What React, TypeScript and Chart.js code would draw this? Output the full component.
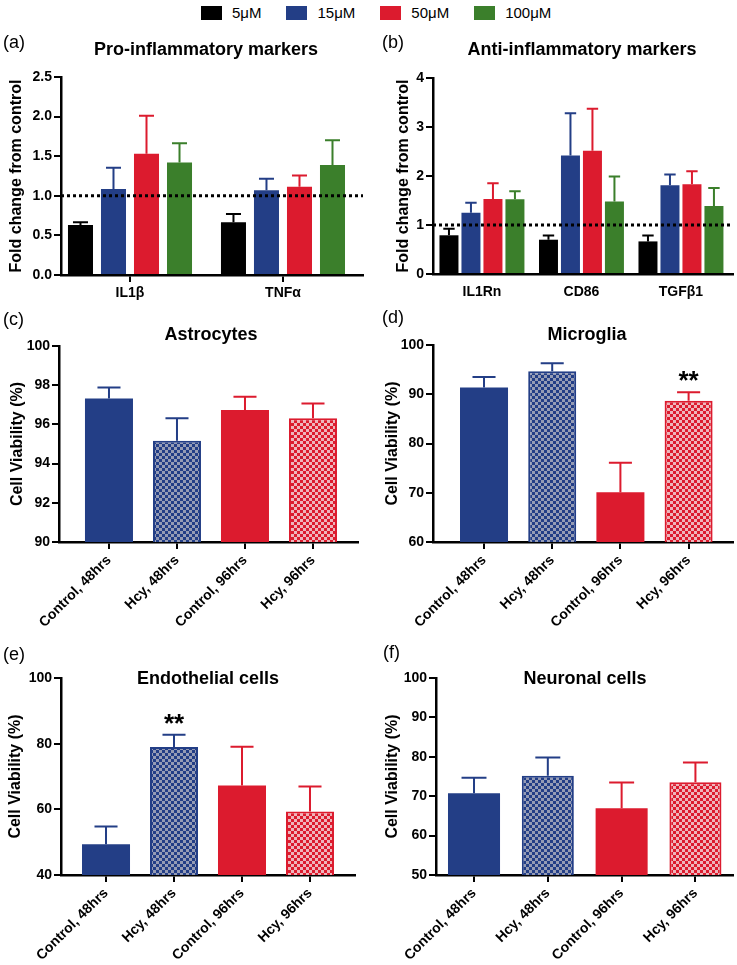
import React, { useEffect, useRef } from 'react';
import { Chart, registerables } from 'chart.js';

Chart.register(...registerables);

const FONT = "'Liberation Sans', Arial, Helvetica, sans-serif";
Chart.defaults.font.family = FONT;
Chart.defaults.color = '#000';

// ---------------- data ----------------
const concentrations = ['5μM', '15μM', '50μM', '100μM'];

const proCategories = ['IL1β', 'TNFα'];
const pro5 = [0.63, 0.665];
const pro5Err = [0.035, 0.105];
const pro15 = [1.085, 1.07];
const pro15Err = [0.27, 0.145];
const pro50 = [1.53, 1.115];
const pro50Err = [0.48, 0.14];
const pro100 = [1.42, 1.39];
const pro100Err = [0.245, 0.31];
const proTicks = [0, 0.5, 1, 1.5, 2, 2.5];

const antiCategories = ['IL1Rn', 'CD86', 'TGFβ1'];
const anti5 = [0.79, 0.7, 0.665];
const anti5Err = [0.135, 0.085, 0.12];
const anti15 = [1.25, 2.42, 1.81];
const anti15Err = [0.205, 0.86, 0.22];
const anti50 = [1.53, 2.515, 1.83];
const anti50Err = [0.32, 0.86, 0.265];
const anti100 = [1.525, 1.48, 1.39];
const anti100Err = [0.165, 0.51, 0.365];
const antiTicks = [0, 1, 2, 3, 4];

const viabilityGroups = ['Control, 48hrs', 'Hcy, 48hrs', 'Control, 96hrs', 'Hcy, 96hrs'];
const astrocytes = [97.32, 95.17, 96.73, 96.31];
const astrocytesErr = [0.56, 1.15, 0.68, 0.76];
const astrocytesTicks = [90, 92, 94, 96, 98, 100];
const microglia = [91.35, 94.66, 70.1, 88.7];
const microgliaErr = [2.15, 1.62, 6.0, 1.7];
const microgliaSig = ['', '', '', '**'];
const microgliaTicks = [60, 70, 80, 90, 100];
const endothelial = [49.36, 78.96, 67.26, 59.33];
const endothelialErr = [5.39, 3.74, 11.8, 7.63];
const endothelialSig = ['', '**', '', ''];
const endothelialTicks = [40, 60, 80, 100];
const neuronal = [70.76, 75.17, 66.95, 73.56];
const neuronalErr = [3.9, 4.66, 6.52, 5.0];
const neuronalTicks = [50, 60, 70, 80, 90, 100];

// ---------------- styles ----------------
const BLACK = '#000000';
const BLUE = '#233e86';
const RED = '#dc1b2e';
const GREEN = '#3b7f2b';
const BLUE_LIGHT = '#959cb5';
const RED_LIGHT = '#eeb5bb';
const concColors = [BLACK, BLUE, RED, GREEN];

function makeChecker(dark: string, light: string): any {
  const c = document.createElement('canvas');
  const s = 3;
  c.width = s * 2;
  c.height = s * 2;
  const g = c.getContext('2d')!;
  g.fillStyle = light;
  g.fillRect(0, 0, s * 2, s * 2);
  g.fillStyle = dark;
  g.fillRect(0, 0, s, s);
  g.fillRect(s, s, s, s);
  const ctx = document.createElement('canvas').getContext('2d')!;
  return ctx.createPattern(c, 'repeat');
}

const decorPlugin = {
  id: 'decor',
  afterDatasetsDraw(chart: any, _args: any, opts: any) {
    const ctx = chart.ctx;
    const ys = chart.scales.y;
    const { left, right } = chart.chartArea;
    ctx.save();
    if (opts.refLine != null) {
      const py = ys.getPixelForValue(opts.refLine);
      ctx.beginPath();
      ctx.setLineDash([3, 3]);
      ctx.lineWidth = 3;
      ctx.strokeStyle = '#000';
      ctx.moveTo(left, py);
      ctx.lineTo(right, py);
      ctx.stroke();
      ctx.setLineDash([]);
    }
    chart.data.datasets.forEach((ds: any, di: number) => {
      const meta = chart.getDatasetMeta(di);
      meta.data.forEach((el: any, i: number) => {
        const v = ds.data[i].y;
        const e = ds.errors[i];
        const col = Array.isArray(ds.errColor) ? ds.errColor[i] : ds.errColor;
        const pTop = ys.getPixelForValue(v + e);
        const cw = el.width * opts.capRatio;
        ctx.beginPath();
        ctx.strokeStyle = col;
        ctx.lineWidth = 2;
        ctx.moveTo(el.x, el.y);
        ctx.lineTo(el.x, pTop);
        ctx.moveTo(el.x - cw / 2, pTop);
        ctx.lineTo(el.x + cw / 2, pTop);
        ctx.stroke();
        if (ds.stars && ds.stars[i]) {
          ctx.fillStyle = '#000';
          ctx.font = `bold 26px ${FONT}`;
          ctx.textAlign = 'center';
          ctx.textBaseline = 'alphabetic';
          ctx.fillText(ds.stars[i], el.x, pTop - 3);
        }
      });
    });
    ctx.fillStyle = '#000';
    ctx.font = `bold 18px ${FONT}`;
    ctx.textAlign = 'center';
    ctx.textBaseline = 'alphabetic';
    ctx.fillText(opts.title, opts.titleX, opts.titleY);
    ctx.font = `18px ${FONT}`;
    ctx.textAlign = 'left';
    ctx.textBaseline = 'middle';
    ctx.fillText(opts.tag, opts.tagX, opts.tagY);
    ctx.restore();
  },
};

type Series = {
  label: string;
  values: number[];
  errors: number[];
  bg: any;
  border: any;
  borderWidth: any;
  errColor: any;
  stars?: string[];
};

type Spec = {
  rect: number[];
  area: number[];
  labels: string[];
  xMin: number;
  xMax: number;
  rot: number;
  xTicks: boolean;
  catPct: number;
  barPct: number;
  yTicks: number[];
  yFmt: (v: number) => string;
  yTitle: string;
  yTitlePad: number;
  title: string;
  titlePos: number[];
  tag: string;
  tagPos: number[];
  refLine?: number;
  capRatio: number;
  series: () => Series[];
};

function buildConfig(spec: Spec): any {
  const [x0, y0, w, h] = spec.rect;
  const [L, T, R, B] = spec.area;
  const datasets = spec.series().map((s) => ({
    label: s.label,
    data: s.values.map((v, i) => ({ x: i, y: v })),
    backgroundColor: s.bg,
    borderColor: s.border,
    borderWidth: s.borderWidth,
    borderSkipped: false,
    errors: s.errors,
    errColor: s.errColor,
    stars: s.stars,
    categoryPercentage: spec.catPct,
    barPercentage: spec.barPct,
  }));
  return {
    type: 'bar',
    data: { datasets },
    plugins: [decorPlugin],
    options: {
      animation: false,
      responsive: false,
      devicePixelRatio: 1,
      layout: { padding: { top: T - y0, right: x0 + w - R, left: 0, bottom: 0 } },
      plugins: {
        legend: { display: false },
        tooltip: { enabled: false },
        title: { display: false },
        decor: {
          refLine: spec.refLine,
          capRatio: spec.capRatio,
          title: spec.title,
          titleX: spec.titlePos[0] - x0,
          titleY: spec.titlePos[1] - y0,
          tag: spec.tag,
          tagX: spec.tagPos[0] - x0,
          tagY: spec.tagPos[1] - y0,
        },
      },
      scales: {
        x: {
          type: 'linear',
          min: spec.xMin,
          max: spec.xMax,
          offset: false,
          afterBuildTicks: (s: any) => {
            s.ticks = spec.labels.map((_, i) => ({ value: i }));
          },
          afterFit: (s: any) => {
            s.height = y0 + h - B;
          },
          ticks: {
            autoSkip: false,
            callback: (v: number) => spec.labels[v] ?? '',
            minRotation: spec.rot,
            maxRotation: spec.rot,
            font: { size: 14, weight: 'bold' },
            color: '#000',
            padding: 3,
          },
          grid: {
            offset: false,
            drawOnChartArea: false,
            color: '#000',
            tickColor: spec.xTicks ? '#000' : 'rgba(0,0,0,0)',
            tickLength: 7,
            tickWidth: 2,
            lineWidth: 2,
          },
          border: { color: '#000', width: 2.5 },
        },
        y: {
          type: 'linear',
          min: spec.yTicks[0],
          max: spec.yTicks[spec.yTicks.length - 1],
          afterBuildTicks: (s: any) => {
            s.ticks = spec.yTicks.map((v) => ({ value: v }));
          },
          afterFit: (s: any) => {
            s.width = L - x0;
          },
          ticks: {
            callback: (v: number) => spec.yFmt(v),
            font: { size: 14, weight: 'bold' },
            color: '#000',
            padding: 2,
          },
          title: {
            display: true,
            text: spec.yTitle,
            font: { size: 16, weight: 'bold' },
            color: '#000',
            padding: { top: spec.yTitlePad, bottom: 0 },
          },
          grid: {
            drawOnChartArea: false,
            color: '#000',
            tickLength: 7,
            tickWidth: 2,
            lineWidth: 2,
          },
          border: { color: '#000', width: 2.5 },
        },
      },
    },
  };
}

function concSeries(vals: number[][], errs: number[][]): Series[] {
  return vals.map((v, k) => ({
    label: concentrations[k],
    values: v,
    errors: errs[k],
    bg: concColors[k],
    border: concColors[k],
    borderWidth: 0,
    errColor: concColors[k],
  }));
}

function viabilitySeries(name: string, values: number[], errors: number[], stars?: string[]): Series[] {
  const bp = makeChecker(BLUE, BLUE_LIGHT);
  const rp = makeChecker(RED, RED_LIGHT);
  return [
    {
      label: name,
      values,
      errors,
      bg: [BLUE, bp, RED, rp],
      border: [BLUE, BLUE, RED, RED],
      borderWidth: [0, 2, 0, 2],
      errColor: [BLUE, BLUE, RED, RED],
      stars,
    },
  ];
}

const fmt1 = (v: number) => v.toFixed(1);
const fmt0 = (v: number) => String(v);

const specs: Spec[] = [
  {
    rect: [0, 28, 370, 282],
    area: [61, 77, 363, 275],
    labels: proCategories,
    xMin: -0.451,
    xMax: 1.523,
    rot: 0,
    xTicks: true,
    catPct: 0.863,
    barPct: 0.758,
    yTicks: proTicks,
    yFmt: fmt1,
    yTitle: 'Fold change from control',
    yTitlePad: 7.4,
    title: 'Pro-inflammatory markers',
    titlePos: [206, 55],
    tag: '(a)',
    tagPos: [3, 43],
    refLine: 1,
    capRatio: 0.6,
    series: () => concSeries([pro5, pro15, pro50, pro100], [pro5Err, pro15Err, pro50Err, pro100Err]),
  },
  {
    rect: [370, 28, 367, 282],
    area: [433, 78, 733, 274],
    labels: antiCategories,
    xMin: -0.492,
    xMax: 2.523,
    rot: 0,
    xTicks: false,
    catPct: 0.884,
    barPct: 0.864,
    yTicks: antiTicks,
    yFmt: fmt0,
    yTitle: 'Fold change from control',
    yTitlePad: 24.4,
    title: 'Anti-inflammatory markers',
    titlePos: [582, 55],
    tag: '(b)',
    tagPos: [382, 43],
    refLine: 1,
    capRatio: 0.6,
    series: () => concSeries([anti5, anti15, anti50, anti100], [anti5Err, anti15Err, anti50Err, anti100Err]),
  },
  {
    rect: [0, 300, 370, 336],
    area: [59, 346, 358, 542],
    labels: viabilityGroups,
    xMin: -0.735,
    xMax: 3.662,
    rot: 45,
    xTicks: true,
    catPct: 1,
    barPct: 0.706,
    yTicks: astrocytesTicks,
    yFmt: fmt0,
    yTitle: 'Cell Viability (%)',
    yTitlePad: 7.9,
    title: 'Astrocytes',
    titlePos: [211, 340],
    tag: '(c)',
    tagPos: [3, 320],
    capRatio: 0.48,
    series: () => viabilitySeries('Astrocytes', astrocytes, astrocytesErr),
  },
  {
    rect: [370, 300, 367, 336],
    area: [433, 345, 733, 542],
    labels: viabilityGroups,
    xMin: -0.748,
    xMax: 3.651,
    rot: 45,
    xTicks: true,
    catPct: 1,
    barPct: 0.704,
    yTicks: microgliaTicks,
    yFmt: fmt0,
    yTitle: 'Cell Viability (%)',
    yTitlePad: 13.4,
    title: 'Microglia',
    titlePos: [587, 340],
    tag: '(d)',
    tagPos: [382, 318],
    capRatio: 0.48,
    series: () => viabilitySeries('Microglia', microglia, microgliaErr, microgliaSig),
  },
  {
    rect: [0, 636, 370, 329],
    area: [61, 678, 355, 875],
    labels: viabilityGroups,
    xMin: -0.662,
    xMax: 3.662,
    rot: 45,
    xTicks: true,
    catPct: 1,
    barPct: 0.706,
    yTicks: endothelialTicks,
    yFmt: fmt0,
    yTitle: 'Cell Viability (%)',
    yTitlePad: 6.4,
    title: 'Endothelial cells',
    titlePos: [208, 684],
    tag: '(e)',
    tagPos: [3, 655],
    capRatio: 0.48,
    series: () => viabilitySeries('Endothelial cells', endothelial, endothelialErr, endothelialSig),
  },
  {
    rect: [370, 636, 367, 329],
    area: [436, 678, 733, 875],
    labels: viabilityGroups,
    xMin: -0.515,
    xMax: 3.509,
    rot: 45,
    xTicks: true,
    catPct: 1,
    barPct: 0.705,
    yTicks: neuronalTicks,
    yFmt: fmt0,
    yTitle: 'Cell Viability (%)',
    yTitlePad: 13.4,
    title: 'Neuronal cells',
    titlePos: [585, 684],
    tag: '(f)',
    tagPos: [383, 653],
    capRatio: 0.48,
    series: () => viabilitySeries('Neuronal cells', neuronal, neuronalErr),
  },
];

function Panel({ spec }: { spec: Spec }) {
  const ref = useRef<HTMLCanvasElement | null>(null);
  useEffect(() => {
    const chart = new Chart(ref.current as HTMLCanvasElement, buildConfig(spec));
    return () => chart.destroy();
  }, [spec]);
  const [x, y, w, h] = spec.rect;
  return (
    <canvas
      ref={ref}
      width={w}
      height={h}
      style={{ position: 'absolute', left: x, top: y, width: w, height: h }}
    />
  );
}

export default function App() {
  return (
    <div
      style={{
        position: 'absolute',
        left: 0,
        top: 0,
        width: 737,
        height: 965,
        background: '#fff',
        overflow: 'hidden',
      }}
    >
      <div
        style={{
          position: 'absolute',
          left: 201,
          top: 4,
          display: 'flex',
          alignItems: 'center',
          fontFamily: FONT,
          fontSize: 15,
          color: '#000',
          lineHeight: '18px',
        }}
      >
        {concentrations.map((c, i) => (
          <div key={c} style={{ display: 'flex', alignItems: 'center', marginRight: i < 3 ? 25 : 0 }}>
            <span
              style={{
                display: 'inline-block',
                width: 21,
                height: 14,
                background: concColors[i],
                marginRight: 10,
              }}
            />
            <span>{c}</span>
          </div>
        ))}
      </div>
      {specs.map((s, i) => (
        <Panel key={i} spec={s} />
      ))}
    </div>
  );
}
